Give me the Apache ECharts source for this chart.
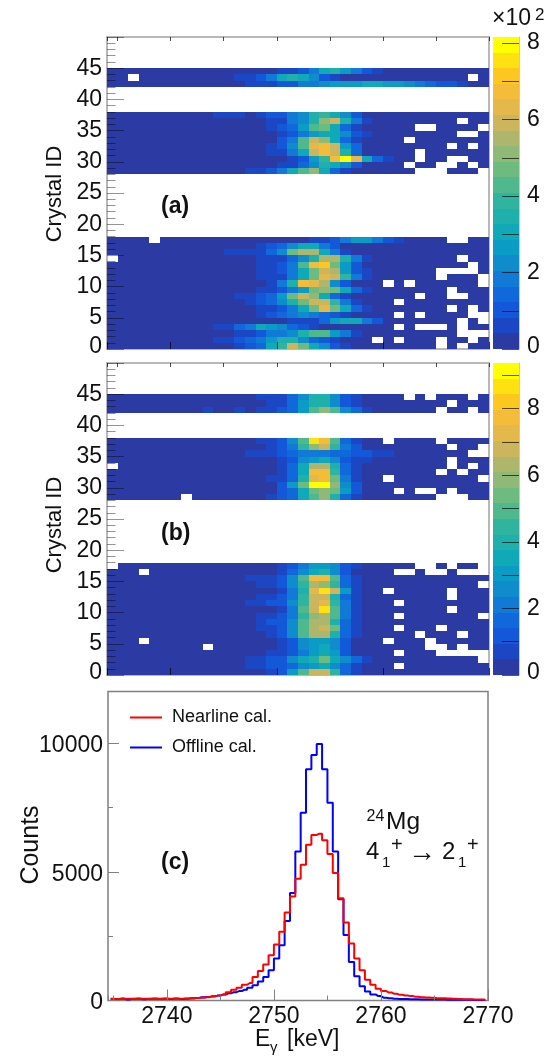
<!DOCTYPE html>
<html>
<head>
<meta charset="utf-8">
<title>Crystal ID vs E_gamma</title>
<script src="https://cdn.jsdelivr.net/npm/echarts@6/dist/echarts.min.js"></script>
<style>
html,body{margin:0;padding:0;background:#fff;}
#main{width:554px;height:1056px;}
</style>
</head>
<body>
<div id="main"></div>
<script>
// heat map rows, left to right = 2734..2769 keV, 0 = empty bin
// panel (a), crystals 44..42
var aTop = [
 [10,10,10,10,10,10,10,10,10,10, 10,10,10,10,10,10,60,60,100,200, 305,345,265,180,100,60,10,10,10,10, 10,10,10,10,10,10],
 [10,10,0,10,10,10,10,10,10,10, 10,10,60,60,100,180,305,345,305,225, 100,60,10,10,10,10,10,10,10,10, 10,10,10,10,0,10],
 [10,10,10,10,10,10,10,10,10,10, 10,10,10,60,60,60,100,100,180,180, 225,265,265,265,305,305,265,265,225,180, 140,100,100,60,10,10]
];
// panel (a), crystals 37..28
var aMid = [
 [10,10,10,10,10,10,10,10,10,10, 60,60,60,10,60,100,100,180,225,345, 385,305,225,100,10,10,10,10,10,10, 10,10,10,10,10,10],
 [10,10,10,10,10,10,10,10,10,10, 10,10,10,10,10,60,60,180,225,345, 510,590,345,180,60,10,10,10,10,10, 10,10,10,0,10,10],
 [10,10,10,10,10,10,10,10,10,10, 10,10,10,10,10,60,100,140,265,425, 470,305,140,60,10,10,10,10,10,0, 0,10,10,10,10,0],
 [10,10,10,10,10,10,10,10,10,10, 10,10,10,10,10,10,60,100,180,265, 305,305,225,100,60,10,10,10,10,10, 10,10,10,0,0,10],
 [10,10,10,10,10,10,10,10,10,10, 10,10,10,10,10,10,100,180,425,590, 510,305,140,60,10,10,10,10,0,10, 10,10,10,10,10,10],
 [10,10,10,10,10,10,10,10,10,10, 10,10,10,10,10,60,100,225,425,630, 670,590,265,140,10,10,10,10,10,10, 10,10,0,10,0,10],
 [10,10,10,10,10,10,10,10,10,10, 10,10,10,10,10,60,60,180,305,590, 670,590,345,140,10,10,10,10,10,0, 10,10,10,10,10,10],
 [10,10,10,10,10,10,10,10,10,10, 10,10,10,10,10,10,10,60,100,265, 385,670,790,630,305,140,60,10,10,0, 10,10,0,0,10,10],
 [10,10,10,10,10,10,10,10,10,10, 10,10,10,10,10,10,60,60,140,225, 345,305,225,100,10,10,10,10,0,10, 10,0,0,10,0,10],
 [10,10,10,10,10,10,10,10,10,10, 10,10,10,60,60,100,180,305,425,510, 305,140,60,10,10,10,10,10,10,0, 0,0,10,10,10,0]
];
// panel (a), crystals 17..0
var aLow = [
 [10,10,10,10,0,10,10,10,10,10, 10,10,10,10,10,10,10,10,10,60, 60,100,180,265,265,180,100,60,10,10, 10,10,0,0,10,10],
 [10,10,10,10,10,10,10,10,10,10, 10,10,10,10,60,100,140,225,305,305, 180,100,10,10,10,10,10,10,10,10, 10,10,10,10,10,10],
 [10,10,10,10,10,10,10,10,10,10, 10,60,60,60,60,140,225,470,550,550, 305,180,60,10,10,10,10,10,10,10, 10,10,10,10,10,10],
 [0,10,10,10,10,10,10,10,10,10, 10,10,10,10,60,60,60,140,225,345, 550,550,345,180,60,10,10,10,10,10, 10,10,10,0,10,10],
 [10,10,10,10,10,10,10,10,10,10, 10,10,10,10,60,60,100,180,425,670, 710,470,265,100,10,10,10,10,10,10, 10,10,10,10,0,10],
 [10,10,10,10,10,10,10,10,10,10, 10,10,10,10,60,60,100,180,305,470, 590,550,265,100,60,10,10,10,10,10, 10,0,0,0,0,10],
 [10,10,10,10,10,10,10,10,10,10, 10,10,10,10,60,60,60,180,305,470, 630,590,385,180,60,10,10,10,10,10, 10,0,10,10,10,0],
 [10,10,10,10,10,10,10,10,10,10, 10,10,10,10,10,60,180,345,670,630, 550,225,100,10,10,10,0,10,0,10, 10,10,10,10,10,0],
 [10,10,10,10,10,10,10,10,10,10, 10,10,10,10,60,60,100,180,265,470, 510,470,305,140,60,10,10,10,10,10, 10,10,0,10,10,10],
 [10,10,10,10,10,10,10,10,10,10, 10,10,60,60,100,140,265,470,590,510, 305,140,60,10,10,10,10,10,10,0, 10,10,0,0,10,10],
 [10,10,10,10,10,10,10,10,10,10, 10,10,10,60,100,140,225,345,470,590, 590,385,180,60,10,10,10,0,10,10, 10,10,10,10,10,10],
 [10,10,10,10,10,10,10,10,10,10, 10,10,10,10,60,60,100,180,305,470, 630,470,305,140,60,10,10,10,10,10, 10,10,0,10,0,10],
 [10,10,10,10,10,10,10,10,10,10, 10,10,10,10,60,100,140,180,225,180, 140,100,60,10,10,10,10,0,10,0, 10,10,10,10,0,0],
 [10,10,10,10,10,10,10,10,10,10, 10,10,10,10,10,10,10,60,60,60, 140,265,305,305,180,100,10,10,10,10, 10,10,10,0,10,0],
 [10,10,10,10,10,10,10,10,10,10, 60,60,140,180,305,265,225,140,100,60, 10,10,10,10,10,10,10,0,10,0, 0,0,10,0,10,10],
 [10,10,10,10,10,10,10,10,10,10, 10,10,60,60,100,180,180,225,345,425, 425,265,180,60,10,10,10,10,10,10, 10,10,10,0,0,0],
 [10,10,10,10,10,10,10,10,10,10, 60,60,100,140,180,265,345,345,225,140, 100,60,10,10,10,0,10,0,10,10, 10,0,10,10,0,10],
 [10,10,10,10,10,10,10,10,10,10, 10,10,60,100,140,305,385,590,470,305, 225,100,60,10,10,10,10,10,10,10, 10,0,10,0,10,10]
];
// panel (b), crystals 44..42
var bTop = [
 [10,10,10,10,10,10,10,10,10,10, 10,10,10,10,70,70,70,165,260,405, 405,260,120,70,10,10,10,10,0,10, 0,10,10,10,0,10],
 [10,10,10,10,10,10,10,10,10,10, 10,10,10,10,10,70,70,165,310,405, 405,260,120,70,10,10,10,10,10,10, 10,10,0,10,10,10],
 [10,10,10,10,10,10,10,10,10,70, 10,10,70,10,70,70,120,165,310,500, 595,500,260,165,70,10,10,10,10,10, 10,0,10,10,0,10]
];
// panel (b), crystals 37..28
var bMid = [
 [10,10,10,10,10,10,10,10,10,10, 10,10,10,10,70,70,120,260,500,880, 785,500,165,70,10,10,0,10,10,10, 10,0,10,10,10,10],
 [10,10,10,10,10,10,10,10,10,10, 10,10,10,10,10,70,120,215,450,595, 690,450,215,120,10,10,10,10,10,10, 10,10,0,10,10,0],
 [10,10,10,10,10,10,10,10,10,10, 10,10,10,70,70,70,120,165,215,215, 215,165,165,120,120,70,70,10,10,10, 10,10,10,10,0,0],
 [10,10,10,10,10,10,10,10,10,10, 10,10,10,10,10,10,70,120,260,310, 355,260,120,70,70,10,10,10,10,10, 10,10,0,10,10,10],
 [0,10,10,10,10,10,10,10,10,10, 10,10,10,10,10,10,70,165,355,640, 640,405,165,70,10,10,10,10,10,10, 10,10,0,10,0,10],
 [10,10,10,10,10,10,10,10,10,10, 10,10,10,10,10,10,70,165,355,785, 785,450,165,70,10,10,10,10,10,10, 10,0,10,0,10,10],
 [10,10,10,10,10,10,10,10,10,10, 10,10,10,10,10,70,70,165,405,735, 785,545,215,70,10,10,0,10,10,10, 10,10,10,10,10,0],
 [10,10,10,10,10,10,10,10,10,10, 10,10,10,10,10,10,120,310,545,925, 925,595,260,120,10,10,10,10,10,10, 10,10,10,10,10,10],
 [10,10,10,10,10,10,10,10,10,10, 10,10,10,10,10,10,120,165,355,545, 595,545,310,120,10,10,10,0,10,0, 0,10,0,10,10,10],
 [10,10,10,10,10,10,10,0,10,10, 10,10,10,10,10,70,120,165,355,500, 595,405,165,70,10,10,10,10,10,10, 10,0,0,0,10,10]
];
// panel (b), crystals 17..0
var bLow = [
 [0,10,10,10,10,10,10,10,10,10, 10,10,10,10,10,10,70,120,215,310, 310,260,120,70,10,10,10,10,10,0, 0,10,0,10,10,0],
 [10,10,10,0,10,10,10,10,10,10, 10,10,10,10,10,10,70,165,260,355, 405,260,120,10,10,10,10,0,0,10, 0,0,10,0,0,0],
 [10,10,10,10,10,10,10,10,10,10, 10,10,10,70,70,70,120,260,500,785, 785,500,165,70,10,10,10,10,10,10, 10,10,10,10,10,10],
 [10,10,10,10,10,10,10,10,10,10, 10,10,10,10,70,70,120,260,450,640, 595,450,165,70,10,10,10,10,10,10, 10,10,10,10,10,0],
 [10,10,10,10,10,10,10,10,10,10, 10,10,10,10,10,10,70,215,405,735, 880,690,310,70,10,10,0,10,10,10, 10,10,0,10,10,10],
 [10,10,10,10,10,10,10,10,10,10, 10,10,10,10,70,70,120,215,450,690, 690,405,165,70,10,10,10,10,10,10, 10,10,0,10,10,10],
 [10,10,10,10,10,10,10,10,10,10, 10,10,10,70,70,120,120,260,450,690, 735,450,215,70,10,10,10,0,10,10, 10,10,10,10,10,10],
 [10,10,10,10,10,10,10,10,10,10, 10,10,10,10,10,10,70,215,500,690, 880,500,215,70,10,10,10,10,10,10, 10,10,0,10,10,10],
 [10,10,10,10,10,10,10,10,10,10, 10,10,10,10,70,70,120,215,450,595, 640,500,215,70,10,10,10,0,10,10, 10,10,10,10,10,0],
 [10,10,10,10,10,10,10,10,10,10, 10,10,10,10,70,120,120,260,500,640, 640,405,165,70,10,10,10,10,10,10, 10,10,10,10,10,10],
 [10,10,10,10,10,10,10,10,10,10, 10,10,10,10,70,70,120,260,500,640, 690,545,165,70,10,10,10,0,10,10, 10,0,10,10,10,10],
 [10,10,10,10,10,10,10,10,10,10, 10,10,10,10,10,70,120,260,500,640, 640,405,165,70,10,10,10,10,10,0, 10,10,10,0,10,10],
 [10,10,10,0,10,10,10,10,10,10, 10,10,10,10,10,10,70,120,260,310, 310,260,120,10,10,10,0,10,10,10, 0,10,10,10,10,10],
 [10,10,10,10,10,10,10,10,10,0, 10,10,10,10,10,10,70,120,260,310, 355,260,120,10,10,10,10,10,10,10, 0,0,10,0,10,10],
 [10,10,10,10,10,10,10,10,10,10, 10,10,10,10,10,70,70,120,215,310, 355,310,120,10,10,10,10,0,10,10, 10,0,0,0,0,0],
 [10,10,10,10,10,10,10,10,10,10, 10,10,10,70,70,120,120,260,355,405, 545,355,260,165,70,10,10,10,10,10, 10,10,10,10,10,0],
 [10,10,10,10,10,10,10,10,10,10, 10,10,10,70,70,120,120,165,260,310, 355,260,165,70,10,10,10,0,10,10, 10,10,10,10,10,10],
 [10,10,10,10,10,10,10,10,10,10, 10,10,10,10,10,70,120,310,500,690, 690,450,165,70,10,10,10,10,10,10, 10,10,10,10,10,10]
];

// panel (c) spectra, 0.5 keV bins starting at 2734.5
var nearline = [55,60,60,65,60,60,65,60,60,60,60,65,70,70,75,80,95,110,130,160,190,235,320,
 415,495,610,680,910,1150,1400,1760,2175,2670,3420,4040,4730,5270,6050,6430,6480,6220,5690,4950,3970,3030,2210,1630,1170,810,610,455,
 365,310,260,220,195,170,145,130,115,105,90,90,80,65,60,50,50,40,40,30];
var offline = [70,50,75,40,70,75,50,70,75,65,80,55,75,60,70,85,100,125,140,165,190,230,280,
 325,365,417,495,590,740,910,1170,1630,2150,3086,4170,5790,7290,8980,9530,9960,8980,7680,5790,3930,2540,1500,940,550,350,235,170,
 110,90,70,60,55,45,45,40,40,40,35,35,30,30,30,25,25,20,20,20];

var zMaxA = 816, zMaxB = 937;
var levelColors = ['#2b3ba3','#1c47c4','#1258d8','#1168da','#1179d6','#0f8ccc','#0a9cc4','#10a9b8','#1fb0ab','#30b4a0',
 '#4fb88c','#6ebb80','#90b877','#aeb56c','#ccb55c','#e4b84a','#f4bc38','#fcc820','#ffe010','#ffff00'];

var font = '"Liberation Sans", Arial, sans-serif';
var tickGrey = 'rgba(0,0,0,0.42)';

function cells(rows, topRow) {
    var out = [];
    rows.forEach(function (row, r) {
        row.forEach(function (v, c) {
            if (v > 0) out.push([2734 + c, topRow - r, v]);
        });
    });
    return out;
}

// rect snapped to whole pixels so neighbouring cells leave no seam
function snapRect(p0, p1, color) {
    var x0 = Math.round(p0[0]), y0 = Math.round(p0[1]);
    return {
        type: 'rect',
        shape: { x: x0, y: y0, width: Math.round(p1[0]) - x0, height: Math.round(p1[1]) - y0 },
        style: { fill: color }
    };
}

function heatSeries(idx, data, zMax) {
    return {
        type: 'custom', xAxisIndex: idx, yAxisIndex: idx, data: data, silent: true,
        renderItem: function (params, api) {
            var x = api.value(0), y = api.value(1), v = api.value(2);
            var level = Math.min(19, Math.floor(v / zMax * 20));
            return snapRect(api.coord([x, y + 1]), api.coord([x + 1, y]), levelColors[level]);
        }
    };
}

function barSeries(idx, zMax) {
    var data = levelColors.map(function (c, i) { return [i * zMax / 20, (i + 1) * zMax / 20, i]; });
    return {
        type: 'custom', xAxisIndex: idx, yAxisIndex: idx, data: data, silent: true,
        renderItem: function (params, api) {
            return snapRect(api.coord([0, api.value(1)]), api.coord([1, api.value(0)]), levelColors[api.value(2)]);
        }
    };
}

// x axis for a heat map panel, major (10 keV) or minor (5 keV) ticks
function keVAxis(gridIndex, splits, len, color) {
    return {
        type: 'value', gridIndex: gridIndex, min: 2734, max: 2770, splitNumber: splits, z: 5,
        axisLine: { show: false }, splitLine: { show: false }, axisLabel: { show: false },
        axisTick: { show: true, inside: true, length: len, lineStyle: { color: color, width: 1 } }
    };
}

function crystalAxis(gridIndex) {
    return {
        type: 'value', gridIndex: gridIndex, min: 0, max: 50, interval: 5, z: 5,
        axisLine: { show: false }, splitLine: { show: false },
        axisTick: { show: true, inside: true, length: 17, lineStyle: { color: tickGrey, width: 1 } },
        minorTick: { show: true, splitNumber: 5, length: 8.5, lineStyle: { color: tickGrey, width: 1 } },
        axisLabel: {
            fontFamily: font, fontSize: 23, color: '#111', margin: 5, lineHeight: 4,
            verticalAlignMinLabel: 'bottom', showMaxLabel: false
        }
    };
}

function barXAxis(gridIndex) {
    return { type: 'value', gridIndex: gridIndex, min: 0, max: 1, show: false };
}

function barYAxis(gridIndex, zMax) {
    return {
        type: 'value', gridIndex: gridIndex, position: 'right', min: 0, max: zMax, interval: 100, z: 5,
        axisLine: { show: true, onZero: false, lineStyle: { color: '#c4c8d0', width: 1 } }, splitLine: { show: false },
        axisTick: { show: true, inside: true, length: 17, lineStyle: { color: 'rgba(0,0,0,0.65)', width: 1 } },
        axisLabel: {
            fontFamily: font, fontSize: 23, color: '#111', margin: 8, lineHeight: 4,
            verticalAlignMinLabel: 'bottom', showMaxLabel: false,
            formatter: function (v) { return v % 200 === 0 ? String(v / 100) : ''; }
        }
    };
}

var binCenters = nearline.map(function (v, i) { return 2734.75 + i * 0.5; });
function spectrum(vals) {
    return vals.map(function (v, i) { return [binCenters[i], v]; });
}

function txt(x, y, text, size, extra) {
    var style = { x: x, y: y, text: text, fontFamily: font, fontSize: size, fill: '#111', verticalAlign: 'middle' };
    for (var k in (extra || {})) style[k] = extra[k];
    return { type: 'text', silent: true, z: 10, style: style };
}

function upText(x, y, text, size) {
    return { type: 'text', silent: true, z: 10, x: x, y: y, rotation: Math.PI / 2,
        style: { text: text, fontFamily: font, fontSize: size, fill: '#111', align: 'center', verticalAlign: 'middle' } };
}

var option = {
    animation: false,
    grid: [
        { left: 107, top: 37, width: 382, height: 312, show: true, borderColor: '#b8b8b8', borderWidth: 2 },
        { left: 493, top: 37, width: 26, height: 312 },
        { left: 107, top: 363, width: 382, height: 312, show: true, borderColor: '#b8b8b8', borderWidth: 2 },
        { left: 493, top: 363, width: 26, height: 312 },
        { left: 108, top: 691.5, width: 380, height: 309, show: true, borderColor: '#808080', borderWidth: 1.5 }
    ],
    xAxis: [
        keVAxis(0, 4, 7, 'rgba(0,0,0,0.7)'),
        barXAxis(1),
        keVAxis(2, 4, 7, 'rgba(0,0,0,0.7)'),
        barXAxis(3),
        {
            type: 'value', gridIndex: 4, min: 2734.5, max: 2770, splitNumber: 4, z: 5,
            axisLine: { show: false }, splitLine: { show: false },
            axisTick: { show: true, inside: true, length: 11, lineStyle: { color: '#808080', width: 1 } },
            axisLabel: { fontFamily: font, fontSize: 23, color: '#111', margin: 5, showMinLabel: false,
                formatter: function (v) { return String(v); } }
        },
        {
            type: 'value', gridIndex: 4, min: 2734.5, max: 2770, splitNumber: 7, z: 5, position: 'bottom',
            axisLine: { show: false }, splitLine: { show: false }, axisLabel: { show: false },
            axisTick: { show: true, inside: true, length: 5, lineStyle: { color: '#808080', width: 1 } }
        },
        keVAxis(0, 7, 4, 'rgba(0,0,0,0.7)'),
        keVAxis(2, 7, 4, 'rgba(0,0,0,0.7)')
    ],
    yAxis: [
        crystalAxis(0),
        barYAxis(1, zMaxA),
        crystalAxis(2),
        barYAxis(3, zMaxB),
        {
            type: 'value', gridIndex: 4, min: 0, max: 12000, interval: 5000, z: 5,
            axisLine: { show: false }, splitLine: { show: false },
            axisTick: { show: true, inside: true, length: 11, lineStyle: { color: '#808080', width: 1 } },
            axisLabel: { margin: 5, showMaxLabel: false,
                formatter: function (v) { return '{n|' + v + '}'; },
                rich: { n: { fontFamily: font, fontSize: 23, color: '#111', padding: [5, 0, 0, 0] } } }
        },
        {
            type: 'value', gridIndex: 4, min: 0, max: 12000, interval: 2500, z: 5, position: 'left',
            axisLine: { show: false }, splitLine: { show: false }, axisLabel: { show: false },
            axisTick: { show: true, inside: true, length: 5, lineStyle: { color: '#808080', width: 1 } }
        }
    ],
    legend: {
        orient: 'vertical', left: 130, top: 707, itemWidth: 32, itemHeight: 2, itemGap: 9, padding: 0, icon: 'rect',
        data: [{ name: 'Nearline cal.' }, { name: 'Offline cal.' }],
        textStyle: { fontFamily: font, fontSize: 18, color: '#111', padding: [0, 0, 0, 5], lineHeight: 21 }
    },
    series: [
        heatSeries(0, cells(aTop, 44).concat(cells(aMid, 37), cells(aLow, 17)), zMaxA),
        barSeries(1, zMaxA),
        heatSeries(2, cells(bTop, 44).concat(cells(bMid, 37), cells(bLow, 17)), zMaxB),
        barSeries(3, zMaxB),
        {
            name: 'Offline cal.', type: 'line', step: 'middle', xAxisIndex: 4, yAxisIndex: 4, silent: true,
            showSymbol: false, data: spectrum(offline), z: 3, lineStyle: { color: '#0000ff', width: 2 }, itemStyle: { color: '#0000ff' }
        },
        {
            name: 'Nearline cal.', type: 'line', step: 'middle', xAxisIndex: 4, yAxisIndex: 4, silent: true,
            showSymbol: false, data: spectrum(nearline), z: 4, lineStyle: { color: '#ff0000', width: 2 }, itemStyle: { color: '#ff0000' }
        }
    ],
    graphic: [
        txt(492, 19, '×10', 23),
        txt(535, 15, '2', 17),
        txt(161, 207, '(a)', 23, { fontWeight: 'bold' }),
        txt(161, 534, '(b)', 23, { fontWeight: 'bold' }),
        txt(161, 863, '(c)', 23, { fontWeight: 'bold' }),
        txt(366.5, 817, '24', 16),
        txt(386, 822, 'Mg', 24.5),
        txt(366, 852, '4', 24),
        txt(382, 863, '1', 15),
        txt(391, 845, '+', 20),
        txt(408, 853, '→', 28),
        txt(442, 852, '2', 24),
        txt(458, 863, '1', 15),
        txt(467, 845, '+', 20),
        upText(55, 194, 'Crystal ID', 22),
        upText(55, 525, 'Crystal ID', 22),
        upText(31, 845, 'Counts', 25),
        txt(255, 1040, 'E', 23),
        txt(270, 1048, 'γ', 15),
        txt(287, 1040, '[keV]', 23)
    ]
};

var chart = echarts.init(document.getElementById('main'), null, { renderer: 'canvas' });
chart.setOption(option);
</script>
</body>
</html>
